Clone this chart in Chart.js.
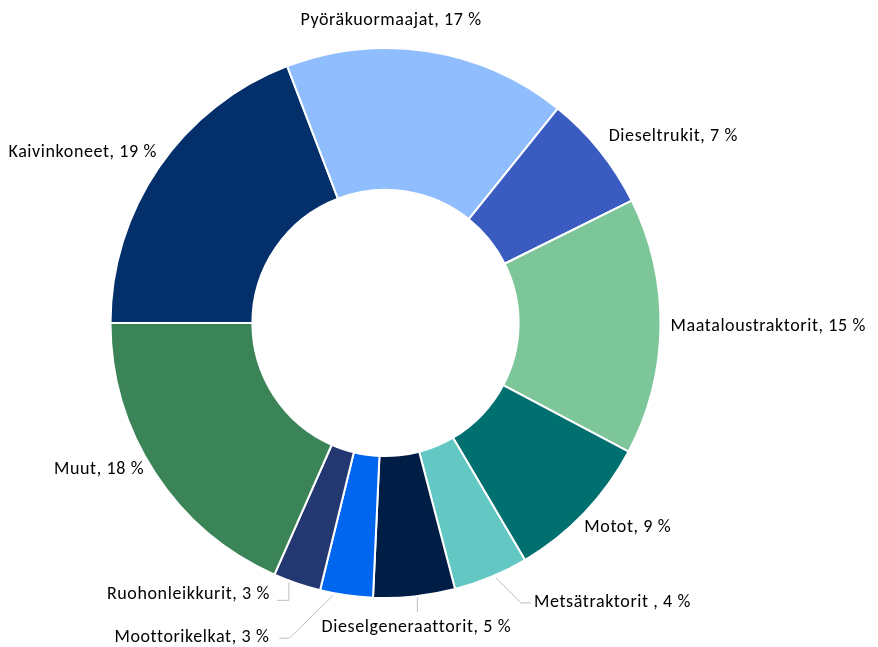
<!DOCTYPE html>
<html>
<head>
<meta charset="utf-8">
<script src="https://cdn.jsdelivr.net/npm/chart.js@4.4.1/dist/chart.umd.min.js"></script>
<style>
  body { margin: 0; background: #fff; }
  #caja { width: 878px; height: 647px; }
</style>
</head>
<body>
<div id="caja"><canvas id="chartKoneet"></canvas></div>
<script>
/* datos de la grafica */
const etiquetas = [
  "Kaivinkoneet", "Pyöräkuormaajat", "Dieseltrukit", "Maataloustraktorit", "Motot",
  "Metsätraktorit ", "Dieselgeneraattorit", "Moottorikelkat", "Ruohonleikkurit", "Muut"
];
const osuudet = [19.2, 16.6, 6.9, 15.1, 8.8, 4.4, 4.8, 3.1, 2.8, 18.4];
const colores = [
  "#03306b", "#8fbdfd", "#3a5bc0", "#7dc699", "#006f6f",
  "#63c8c3", "#001d45", "#0066f0", "#233771", "#3a8457"
];

/* posicion de cada texto respecto al borde exterior del sector */
const posTextos = [
  { dx: -2, dy: -15, align: "right" },
  { dx: -37, dy: -31, align: "center" },
  { dx: 9, dy: -14, align: "left" },
  { dx: 10, dy: 0, align: "left" },
  { dx: 0, dy: 15, align: "left" },
  { dx: 43, dy: 26, align: "left", guia: [[5, 1], [30, 26], [40, 26]] },
  { dx: 2, dy: 31, align: "center", guia: [[3, 1], [3, 16]] },
  { dx: -77, dy: 42, align: "right", guia: [[-13, 0], [-57, 43], [-67, 43]] },
  { dx: -27, dy: 11, align: "right", guia: [[-8, -1], [-8, 17], [-20, 17]] },
  { dx: -11, dy: -4, align: "right" }
];

const pluginTextos = {
  id: "textos",
  afterDatasetsDraw(chart) {
    const ctx = chart.ctx;
    const arcos = chart.getDatasetMeta(0).data;
    ctx.save();
    ctx.font = "18px Carlito, Lato, sans-serif";
    ctx.letterSpacing = "0.6px";
    ctx.textBaseline = "middle";
    arcos.forEach((arco, i) => {
      const p = arco.getProps(["x", "y", "startAngle", "endAngle", "outerRadius"], true);
      const medio = (p.startAngle + p.endAngle) / 2;
      const bx = p.x + Math.cos(medio) * p.outerRadius;
      const by = p.y + Math.sin(medio) * p.outerRadius;
      const pos = posTextos[i];
      if (pos.guia) {
        ctx.strokeStyle = "#bfbfbf";
        ctx.lineWidth = 1;
        ctx.beginPath();
        pos.guia.forEach((g, k) => {
          if (k === 0) ctx.moveTo(bx + g[0], by + g[1]);
          else ctx.lineTo(bx + g[0], by + g[1]);
        });
        ctx.stroke();
      }
      ctx.fillStyle = "#000";
      ctx.textAlign = pos.align;
      ctx.fillText(etiquetas[i] + ", " + Math.round(osuudet[i]) + " %", bx + pos.dx, by + pos.dy);
    });
    ctx.restore();
  }
};

const contextKoneet = document.getElementById("chartKoneet").getContext("2d");
const chartKoneet = new Chart(contextKoneet, {
  type: "doughnut",
  data: {
    labels: etiquetas,
    datasets: [
      {
        label: "Osuus",
        data: osuudet,
        backgroundColor: colores,
        borderColor: "#ffffff",
        borderWidth: 2,
      },
    ],
  },
  options: {
    responsive: true,
    maintainAspectRatio: false,
    animation: false,
    rotation: -90,
    cutout: "48.4%",
    layout: { padding: { left: 109, right: 216, top: 47, bottom: 48 } },
    plugins: {
      legend: { display: false },
      tooltip: { enabled: false },
    },
  },
  plugins: [pluginTextos],
});
</script>
</body>
</html>
